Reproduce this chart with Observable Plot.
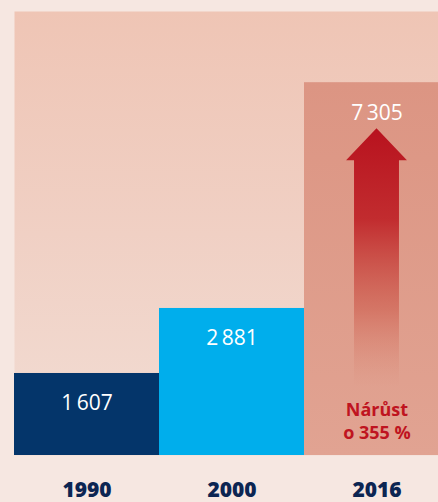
<!DOCTYPE html>
<html>
<head>
<meta charset="utf-8">
<script src="https://cdn.jsdelivr.net/npm/d3@7"></script>
<script src="https://cdn.jsdelivr.net/npm/@observablehq/plot@0.6"></script>
<style>
  html, body { margin: 0; padding: 0; background: #f6e7e1; overflow: hidden; }
  #chart { width: 438px; overflow: hidden; }
  #chart svg { display: block; background: transparent; max-width: none !important; width: 449px !important; height: 502px !important; }
</style>
</head>
<body>
<div id="chart"></div>
<script>
// Data
const years = ["1990", "2000", "2016"];
const values = [1607, 2881, 7305];
const barColors = ["#04356a", "#00aeec", "url(#barGrad)"];
const growthLabel = "Nárůst\no 355 %";

const cz = d3.formatLocale({decimal: ",", thousands: "\u2009", grouping: [3], currency: ["", " Kč"]});
const fmt = cz.format(",d");

const data = years.map((year, i) => ({year, value: values[i], color: barColors[i]}));

function arrowMark(index, scales, vals, dimensions) {
  const x = scales.x, y = scales.y;
  const last = data[data.length - 1];
  const bw = x.bandwidth();
  const cx = x(last.year) + bw / 2;
  const top = y(last.value);
  const bottom = y(0);
  const tipY = top + 46;
  const headY = tipY + 32;
  const endY = bottom - 68;
  const sw = bw * 0.155;
  const hw = bw * 0.21;
  const ns = "http://www.w3.org/2000/svg";
  const g = document.createElementNS(ns, "g");
  const defs = document.createElementNS(ns, "defs");
  defs.innerHTML = `
    <linearGradient id="arrowGrad" gradientUnits="userSpaceOnUse" x1="0" y1="${tipY}" x2="0" y2="${endY}">
      <stop offset="0" stop-color="#b8121e" stop-opacity="1"/>
      <stop offset="0.35" stop-color="#c0262a" stop-opacity="0.95"/>
      <stop offset="0.7" stop-color="#cc5546" stop-opacity="0.55"/>
      <stop offset="1" stop-color="#d8806c" stop-opacity="0"/>
    </linearGradient>`;
  g.appendChild(defs);
  const p = document.createElementNS(ns, "path");
  p.setAttribute("d", `M${cx},${tipY} L${cx + hw},${headY} L${cx + sw},${headY} L${cx + sw},${endY} L${cx - sw},${endY} L${cx - sw},${headY} L${cx - hw},${headY} Z`);
  p.setAttribute("fill", "url(#arrowGrad)");
  g.appendChild(p);
  return g;
}

const plot = Plot.plot({
  width: 449,
  height: 502,
  marginLeft: 14,
  marginRight: 0,
  marginTop: 11,
  marginBottom: 47,
  x: {domain: years, padding: 0, axis: null},
  y: {domain: [0, 8700], axis: null},
  style: {fontFamily: "Open Sans, sans-serif", background: "transparent"},
  marks: [
    Plot.frame({fill: "url(#panelGrad)", stroke: "none"}),
    Plot.barY(data, {x: "year", y: "value", fill: d => d.color}),
    arrowMark,
    Plot.text(data, {x: "year", y: "value", text: d => fmt(d.value), fill: "white", fontSize: 21, fontWeight: 400, lineAnchor: "bottom", dy: 37}),
    Plot.text([data[data.length - 1]], {x: "year", y: () => 0, text: () => growthLabel, fill: "#bf1420", fontSize: 18, fontWeight: 700, lineAnchor: "bottom", lineHeight: 1.25, dy: -17}),
    Plot.text(years, {x: d => d, frameAnchor: "bottom", text: d => d, fill: "#0c2552", fontSize: 21, fontWeight: 800, lineAnchor: "middle", dy: 35})
  ]
});

const defs = d3.select(plot).insert("defs", ":first-child");
defs.html(`
  <linearGradient id="panelGrad" x1="0" y1="0" x2="0" y2="1">
    <stop offset="0" stop-color="#efc5b5"/>
    <stop offset="0.5" stop-color="#f0d0c4"/>
    <stop offset="1" stop-color="#f2ddd4"/>
  </linearGradient>
  <linearGradient id="barGrad" x1="0" y1="0" x2="0" y2="1">
    <stop offset="0" stop-color="#dc9583"/>
    <stop offset="1" stop-color="#e1a392"/>
  </linearGradient>`);

document.getElementById("chart").appendChild(plot);
</script>
</body>
</html>
